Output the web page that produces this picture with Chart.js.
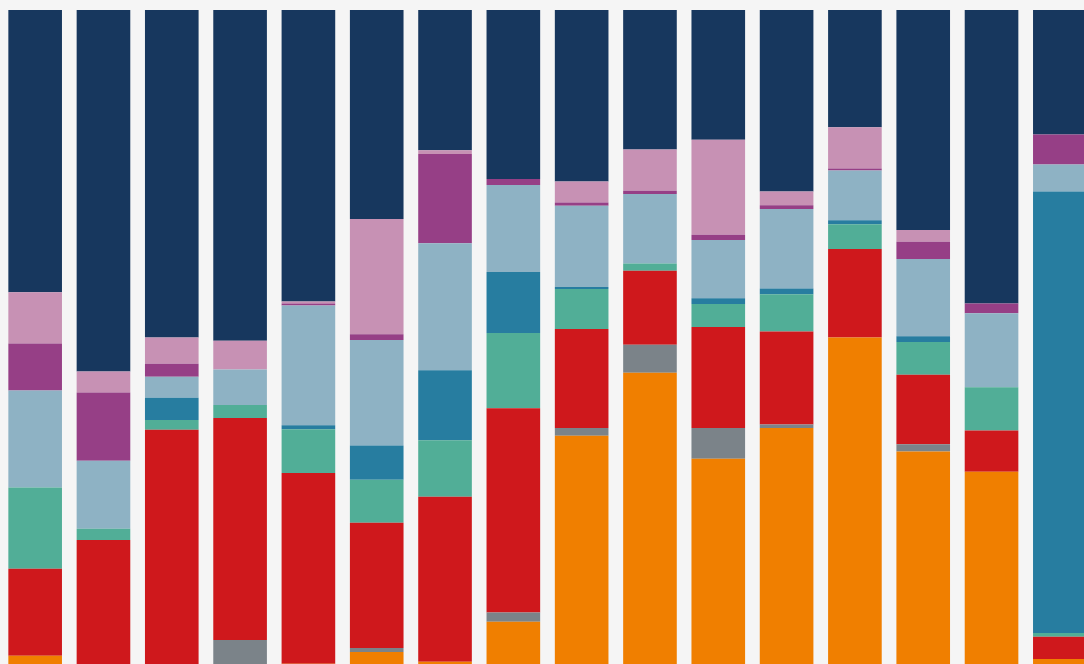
<!DOCTYPE html>
<html>
<head>
<meta charset="utf-8">
<script src="https://cdn.jsdelivr.net/npm/chart.js@4"></script>
<style>
  html, body { margin: 0; padding: 0; background: #f5f5f5; overflow: hidden; }
  #chart { display: block; }
</style>
</head>
<body>
<canvas id="chart" width="1096" height="665"></canvas>
<script>
// 16 columns, each stacked to 100 %
const categories = ['1', '2', '3', '4', '5', '6', '7', '8', '9', '10', '11', '12', '13', '14', '15', '16'];

// series, bottom of the stack first (shares in %)
const orange    = [1.4, 0,    0,    0,    0.2,  2.0,  0.5,  6.6,  35.0, 44.6, 31.5, 36.2, 50.0, 32.6, 29.5, 0.9];
const gray      = [0,   0,    0,    3.8,  0,    0.6,  0,    1.4,  1.2,  4.3,  4.7,  0.5,  0,    1.1,  0,    0];
const red       = [13.3, 19.1, 35.9, 33.9, 29.1, 19.1, 25.2, 31.2, 15.1, 11.3, 15.4, 14.2, 13.5, 10.6, 6.3, 3.4];
const green     = [12.4, 1.7,  1.5,  2.0,  6.7,  6.6,  8.6,  11.5, 6.1,  1.1,  3.5,  5.7,  3.8,  5.0,  6.6,  0.6];
const teal      = [0,    0,    3.4,  0,    0.6,  5.2,  10.7, 9.3,  0.3,  0,    0.9,  0.9,  0.6,  0.9,  0,    67.4];
const lightBlue = [14.8, 10.4, 3.2,  5.4,  18.3, 16.1, 19.4, 13.3, 12.4, 10.6, 8.9,  12.1, 7.6,  11.8, 11.3, 4.1];
const purple    = [7.2,  10.4, 2.0,  0,    0.3,  0.9,  13.6, 0.9,  0.5,  0.5,  0.8,  0.6,  0.3,  2.6,  1.5,  4.6];
const pink      = [7.8,  3.2,  4.0,  4.4,  0.3,  17.6, 0.6,  0,    3.2,  6.3,  14.5, 2.1,  6.3,  1.8,  0,    0];
const navy      = [43.1, 55.2, 50.0, 50.5, 44.5, 31.9, 21.4, 25.8, 26.2, 21.3, 19.8, 27.7, 17.9, 33.6, 44.8, 19.0];

const seriesList = [
  { label: 'Orange', data: orange, color: '#f07f00' },
  { label: 'Gray', data: gray, color: '#7b8389' },
  { label: 'Red', data: red, color: '#cf181c' },
  { label: 'Green', data: green, color: '#51ae97' },
  { label: 'Teal', data: teal, color: '#277da0' },
  { label: 'Light blue', data: lightBlue, color: '#8eb2c4' },
  { label: 'Purple', data: purple, color: '#963f86' },
  { label: 'Pink', data: pink, color: '#c791b4' },
  { label: 'Navy', data: navy, color: '#17375e' }
];

new Chart(document.getElementById('chart'), {
  type: 'bar',
  data: {
    labels: categories,
    datasets: seriesList.map(s => ({
      label: s.label,
      data: s.data,
      backgroundColor: s.color,
      borderWidth: 0,
      barPercentage: 0.785,
      categoryPercentage: 1
    }))
  },
  options: {
    responsive: false,
    animation: false,
    devicePixelRatio: 1,
    layout: { padding: { top: 10, left: 1, right: 2, bottom: 0 } },
    plugins: {
      legend: { display: false },
      tooltip: { enabled: false }
    },
    scales: {
      x: { stacked: true, display: false },
      y: { stacked: true, display: false, min: 0, max: 100 }
    }
  }
});
</script>
</body>
</html>
